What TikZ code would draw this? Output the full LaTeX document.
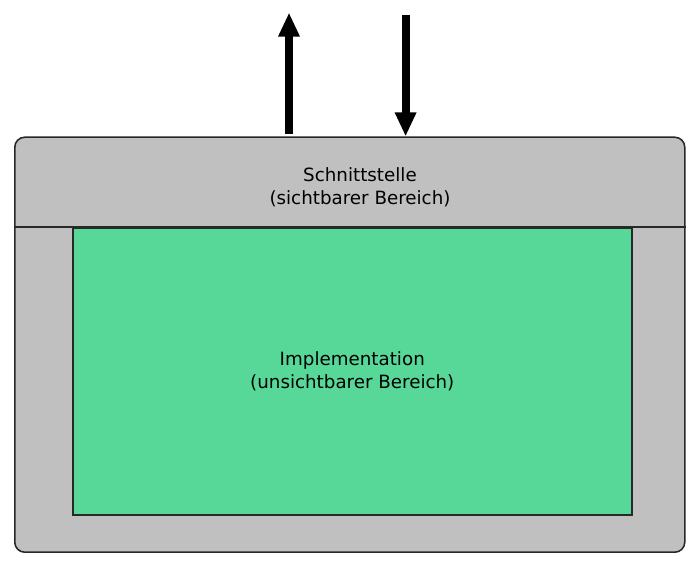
\documentclass[tikz,border=0pt]{standalone}
\usepackage{fontspec}
\setmainfont{DejaVu Sans}
\usetikzlibrary{arrows.meta, positioning}
\definecolor{kasten}{RGB}{192,192,192}
\definecolor{gruen}{RGB}{87,216,152}
\definecolor{rand}{RGB}{40,40,40}

\begin{document}
\begin{tikzpicture}
      \tikzset{every node/.style={font=\fontsize{13}{16.5}\selectfont, align=center}, box/.style={draw=rand, line width=1.1pt, inner sep=0pt}, pfeil/.style={line width=0.2cm, -{Triangle[length=0.6cm, width=0.5cm]}}}
      \useasboundingbox (0,0) rectangle (17.45,14.175);
      \node[box, fill=kasten, rounded corners=0.25cm, minimum width=16.75cm, minimum height=10.375cm, anchor=south west] (modul) at (0.35,0.35) {};
      \node[box, fill=gruen, minimum width=13.975cm, minimum height=7.175cm, anchor=north west] (impl) at (1.8,8.5) {Implementation\\(unsichtbarer Bereich)};
      \node (schnitt) at (9.0,9.5) {Schnittstelle\\(sichtbarer Bereich)};
      \draw[draw=rand, line width=1.1pt] (modul.west |- impl.north) -- (modul.east |- impl.north);
      \coordinate (aus) at (7.225,13.86);
      \coordinate (ein) at (10.14,13.8);
      \draw[pfeil] ([yshift=2pt]modul.north -| aus) -- (aus);
      \draw[pfeil] (ein) -- (modul.north -| ein);
    \end{tikzpicture}
\end{document}
